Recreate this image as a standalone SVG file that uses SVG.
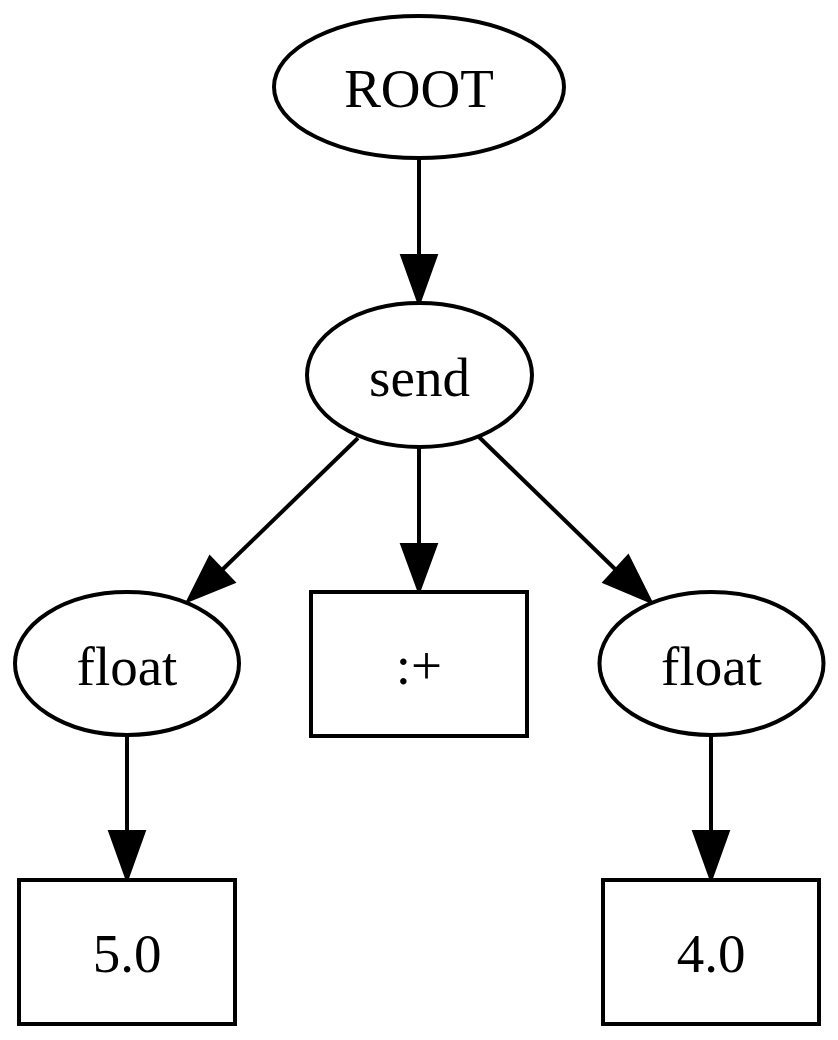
<svg xmlns="http://www.w3.org/2000/svg" width="838" height="1040" viewBox="0 0 838 1040">
<style>
.n{fill:#fff;stroke:#000;stroke-width:4}
.t{font-family:"Liberation Serif","Times New Roman",serif;font-size:55px;fill:#000;text-anchor:middle}
.e{stroke:#000;stroke-width:4;fill:none}
.h{fill:#000;stroke:#000;stroke-width:4}
</style>
<rect width="838" height="1040" fill="#fff"/>
<g id="connectors">
<line class="e" x1="419" y1="159" x2="419" y2="256"/>
<polygon class="h" points="402.5,256 435.5,256 419,302"/>
<line class="e" x1="358" y1="438" x2="222" y2="570"/>
<polygon class="h" points="210,558 233,582 189,600"/>
<line class="e" x1="419" y1="447" x2="419" y2="545"/>
<polygon class="h" points="402.5,545 435.5,545 419,590"/>
<line class="e" x1="479" y1="437" x2="616" y2="570"/>
<polygon class="h" points="605,582 628,557 650,601"/>
<line class="e" x1="127" y1="735" x2="127" y2="832"/>
<polygon class="h" points="110.5,832 143.5,832 127,878"/>
<line class="e" x1="711" y1="735" x2="711" y2="832"/>
<polygon class="h" points="694.5,832 727.5,832 711,878"/>
</g>
<g id="node-root">
<ellipse class="n" cx="419" cy="87" rx="145" ry="71"/>
<text class="t" x="419" y="107">ROOT</text>
</g>
<g id="node-send">
<ellipse class="n" cx="419.5" cy="375" rx="112.5" ry="72"/>
<text class="t" x="419.5" y="396">send</text>
</g>
<g id="node-float-left">
<ellipse class="n" cx="127" cy="663.5" rx="112" ry="71.5"/>
<text class="t" x="127" y="685">float</text>
</g>
<g id="node-plus">
<rect class="n" x="311" y="592" width="216" height="144"/>
<text class="t" x="419" y="684">:+</text>
</g>
<g id="node-float-right">
<ellipse class="n" cx="711.5" cy="663.5" rx="112" ry="71.5"/>
<text class="t" x="711.5" y="685">float</text>
</g>
<g id="node-5">
<rect class="n" x="19" y="880" width="216" height="144"/>
<text class="t" x="127" y="972">5.0</text>
</g>
<g id="node-4">
<rect class="n" x="603" y="880" width="216" height="144"/>
<text class="t" x="711" y="972">4.0</text>
</g>
</svg>
